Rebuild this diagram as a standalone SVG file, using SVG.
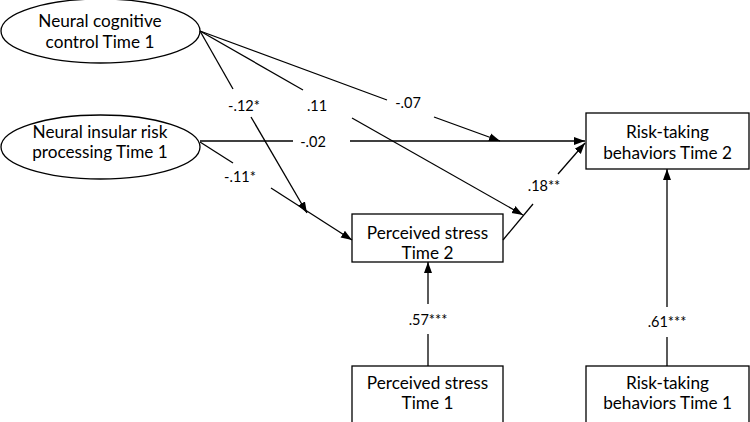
<svg xmlns="http://www.w3.org/2000/svg" width="750" height="422" viewBox="0 0 750 422">
<defs>
<marker id="ah" markerUnits="userSpaceOnUse" markerWidth="12" markerHeight="10" viewBox="0 0 12 10" refX="11" refY="5" orient="auto">
<path d="M0,1 L11,5 L0,9 Z" fill="#000"/>
</marker>
<style>
.node{fill:#fff;stroke:#000;stroke-width:1.3}
.t{font-family:Lato,"Liberation Sans",sans-serif;font-size:17.2px;fill:#000;text-anchor:middle}
.l{font-family:Lato,"Liberation Sans",sans-serif;font-size:14.5px;fill:#000;text-anchor:middle}
.c line{stroke:#000;stroke-width:1.3;fill:none}
.c line.a{marker-end:url(#ah)}
</style>
</defs>
<rect width="750" height="422" fill="#fff"/>
<g id="neural-cognitive">
<ellipse class="node" cx="100.5" cy="31" rx="99.5" ry="32"/>
<text class="t" x="100" y="27">Neural cognitive</text>
<text class="t" x="100" y="48">control Time 1</text>
</g>
<g id="neural-insular">
<ellipse class="node" cx="100.5" cy="147" rx="99.5" ry="32"/>
<text class="t" x="100" y="138">Neural insular risk</text>
<text class="t" x="100" y="158">processing Time 1</text>
</g>
<g id="stress-t2">
<rect class="node" x="352" y="214" width="151" height="48"/>
<text class="t" x="427.5" y="239">Perceived stress</text>
<text class="t" x="427.5" y="259">Time 2</text>
</g>
<g id="risk-t2">
<rect class="node" x="586" y="113" width="163" height="56"/>
<text class="t" x="667.5" y="138">Risk-taking</text>
<text class="t" x="667.5" y="159">behaviors Time 2</text>
</g>
<g id="stress-t1">
<rect class="node" x="352" y="366" width="151" height="70"/>
<text class="t" x="427.5" y="389">Perceived stress</text>
<text class="t" x="427.5" y="409">Time 1</text>
</g>
<g id="risk-t1">
<rect class="node" x="586" y="366" width="163" height="70"/>
<text class="t" x="667.5" y="389">Risk-taking</text>
<text class="t" x="667.5" y="409">behaviors Time 1</text>
</g>
<g id="connectors" class="c">
<line x1="200" y1="31" x2="233" y2="89"/>
<line class="a" x1="251" y1="117" x2="307" y2="213"/>
<line x1="200" y1="31" x2="303" y2="90"/>
<line class="a" x1="352" y1="118" x2="523" y2="215"/>
<line x1="200" y1="31" x2="387" y2="100"/>
<line class="a" x1="434" y1="117" x2="500" y2="141"/>
<line x1="200" y1="141" x2="293" y2="141"/>
<line class="a" x1="350" y1="141" x2="585" y2="141"/>
<line x1="200" y1="142" x2="233" y2="163"/>
<line class="a" x1="271" y1="188" x2="352" y2="240"/>
<line x1="503" y1="240" x2="533" y2="204"/>
<line class="a" x1="558" y1="174" x2="585" y2="143"/>
<line x1="428" y1="366" x2="428" y2="334"/>
<line class="a" x1="428" y1="304" x2="428" y2="262"/>
<line x1="667" y1="366" x2="667" y2="337"/>
<line class="a" x1="667" y1="307" x2="667" y2="169"/>
<text class="l" x="244" y="111">-.12*</text>
<text class="l" x="317" y="111">.11</text>
<text class="l" x="408" y="108">-.07</text>
<text class="l" x="313" y="147">-.02</text>
<text class="l" x="240" y="182">-.11*</text>
<text class="l" x="544" y="191">.18**</text>
<text class="l" x="428" y="325">.57***</text>
<text class="l" x="667" y="327">.61***</text>
</g>
</svg>
